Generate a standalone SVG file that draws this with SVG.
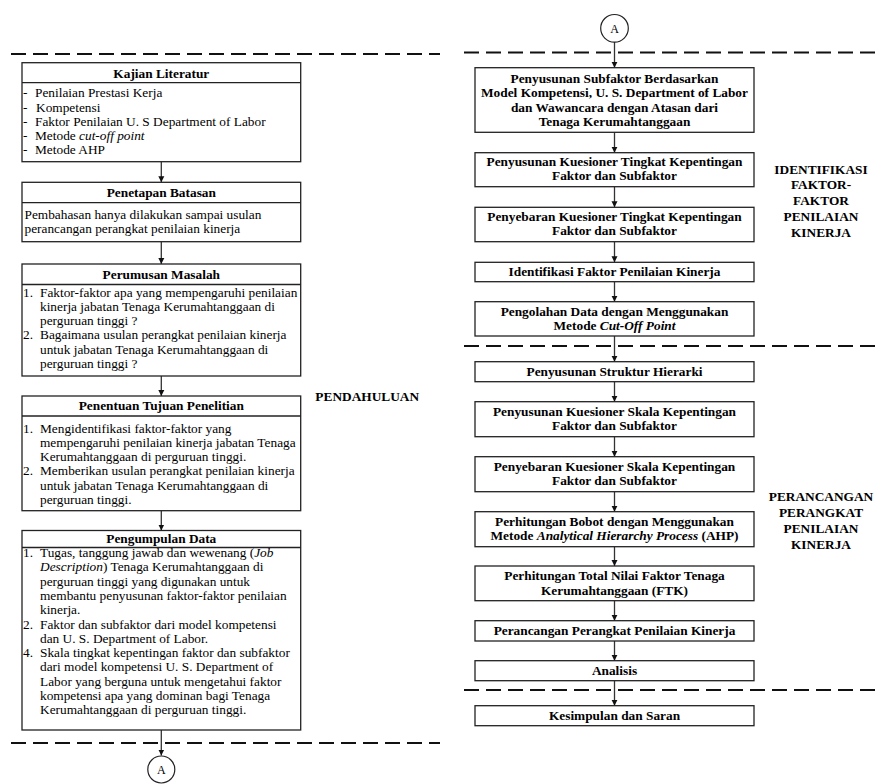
<svg xmlns="http://www.w3.org/2000/svg" width="880" height="784" viewBox="0 0 880 784">
<defs>
<marker id="ah" markerWidth="7" markerHeight="7" refX="6" refY="3.5" orient="auto" markerUnits="userSpaceOnUse">
<path d="M0,0.5 L6,3.5 L0,6.5 z" fill="#111"/>
</marker>
<style>
text{font-family:"Liberation Serif","Times New Roman",serif;font-size:13.33px;fill:#000}
.b{font-weight:bold}
.c{text-anchor:middle}
.i{font-style:italic}
.box{fill:#fff;stroke:#222;stroke-width:1.3}
.sep{stroke:#222;stroke-width:1.3}
.dash{stroke:#111;stroke-width:2;stroke-dasharray:15,7;fill:none}
.con{stroke:#333;stroke-width:1.3;fill:none;marker-end:url(#ah)}
.circ{fill:#fff;stroke:#222;stroke-width:1.2}
</style>
</defs>
<rect width="880" height="784" fill="#fff"/>

<g id="dividers">
<line class="dash" x1="11" y1="54" x2="440" y2="54"/>
<line class="dash" x1="11" y1="743" x2="440" y2="743"/>
<line class="dash" x1="464" y1="52.5" x2="880" y2="52.5"/>
<line class="dash" x1="464" y1="346" x2="880" y2="346"/>
<line class="dash" x1="464" y1="690" x2="880" y2="690"/>
</g>

<g id="connectors">
<line class="con" x1="161.3" y1="161.7" x2="161.3" y2="182.3"/>
<line class="con" x1="161.3" y1="241.7" x2="161.3" y2="264"/>
<line class="con" x1="161.3" y1="376" x2="161.3" y2="396"/>
<line class="con" x1="161.3" y1="510.7" x2="161.3" y2="530.5"/>
<line class="con" x1="161.3" y1="730" x2="161.3" y2="755.5"/>
<line class="con" x1="614.5" y1="42" x2="614.5" y2="67.7"/>
<line class="con" x1="614.5" y1="132.3" x2="614.5" y2="152.7"/>
<line class="con" x1="614.5" y1="186.7" x2="614.5" y2="207.3"/>
<line class="con" x1="614.5" y1="241.7" x2="614.5" y2="262.3"/>
<line class="con" x1="614.5" y1="281.7" x2="614.5" y2="301.7"/>
<line class="con" x1="614.5" y1="336" x2="614.5" y2="361.7"/>
<line class="con" x1="614.5" y1="381.7" x2="614.5" y2="401.7"/>
<line class="con" x1="614.5" y1="436.7" x2="614.5" y2="456.7"/>
<line class="con" x1="614.5" y1="491.7" x2="614.5" y2="511.7"/>
<line class="con" x1="614.5" y1="546.7" x2="614.5" y2="566"/>
<line class="con" x1="614.5" y1="600.7" x2="614.5" y2="620.7"/>
<line class="con" x1="614.5" y1="641" x2="614.5" y2="660.7"/>
<line class="con" x1="614.5" y1="680.7" x2="614.5" y2="705.7"/>
</g>

<g id="kajian">
<rect class="box" x="22" y="62.7" width="278.7" height="99"/>
<line class="sep" x1="22" y1="82.7" x2="300.7" y2="82.7"/>
<text class="b c" x="161.3" y="77.5">Kajian Literatur</text>
<text x="23" y="97.3">-</text><text x="35" y="97.3">Penilaian Prestasi Kerja</text>
<text x="23" y="111.5">-</text><text x="36" y="111.5">Kompetensi</text>
<text x="23" y="125.7">-</text><text x="35" y="125.7">Faktor Penilaian U. S Department of Labor</text>
<text x="23" y="139.9">-</text><text x="35" y="139.9">Metode <tspan class="i">cut-off point</tspan></text>
<text x="23" y="154.1">-</text><text x="35" y="154.1">Metode AHP</text>
</g>

<g id="batasan">
<rect class="box" x="22" y="182.3" width="278.7" height="59.4"/>
<line class="sep" x1="22" y1="202.7" x2="300.7" y2="202.7"/>
<text class="b c" x="161.3" y="197">Penetapan Batasan</text>
<text x="24.5" y="219">Pembahasan hanya dilakukan sampai usulan</text>
<text x="24.5" y="233.3">perancangan perangkat penilaian kinerja</text>
</g>

<g id="perumusan">
<rect class="box" x="22" y="264" width="278.7" height="112"/>
<line class="sep" x1="22" y1="284.5" x2="300.7" y2="284.5"/>
<text class="b c" x="161.3" y="279">Perumusan Masalah</text>
<text x="23" y="296.5">1.</text><text x="40" y="296.5">Faktor-faktor apa yang mempengaruhi penilaian</text>
<text x="40" y="310.8">kinerja jabatan Tenaga Kerumahtanggaan di</text>
<text x="40" y="325.1">perguruan tinggi ?</text>
<text x="23" y="339.4">2.</text><text x="40" y="339.4">Bagaimana usulan perangkat penilaian kinerja</text>
<text x="40" y="353.7">untuk jabatan Tenaga Kerumahtanggaan di</text>
<text x="40" y="368">perguruan tinggi ?</text>
</g>

<g id="tujuan">
<rect class="box" x="22" y="396" width="278.7" height="114.7"/>
<line class="sep" x1="22" y1="416" x2="300.7" y2="416"/>
<text class="b c" x="161.3" y="410">Penentuan Tujuan Penelitian</text>
<text x="23" y="432.5">1.</text><text x="40" y="432.5">Mengidentifikasi faktor-faktor yang</text>
<text x="40" y="446.8">mempengaruhi penilaian kinerja jabatan Tenaga</text>
<text x="40" y="461.1">Kerumahtanggaan di perguruan tinggi.</text>
<text x="23" y="475.4">2.</text><text x="40" y="475.4">Memberikan usulan perangkat penilaian kinerja</text>
<text x="40" y="489.7">untuk jabatan Tenaga Kerumahtanggaan di</text>
<text x="40" y="504">perguruan tinggi.</text>
</g>

<g id="pengumpulan">
<rect class="box" x="22" y="530.5" width="278.7" height="199.5"/>
<line class="sep" x1="22" y1="547.5" x2="300.7" y2="547.5"/>
<text class="b c" x="161.3" y="543">Pengumpulan Data</text>
<text x="23" y="557">1.</text><text x="40" y="557">Tugas, tanggung jawab dan wewenang (<tspan class="i">Job</tspan></text>
<text x="40" y="571.3"><tspan class="i">Description</tspan>) Tenaga Kerumahtanggaan di</text>
<text x="40" y="585.6">perguruan tinggi yang digunakan untuk</text>
<text x="40" y="599.9">membantu penyusunan faktor-faktor penilaian</text>
<text x="40" y="614.2">kinerja.</text>
<text x="23" y="628.5">2.</text><text x="40" y="628.5">Faktor dan subfaktor dari model kompetensi</text>
<text x="40" y="642.8">dan U. S. Department of Labor.</text>
<text x="23" y="657.1">4.</text><text x="40" y="657.1">Skala tingkat kepentingan faktor dan subfaktor</text>
<text x="40" y="671.4">dari model kompetensi U. S. Department of</text>
<text x="40" y="685.7">Labor yang berguna untuk mengetahui faktor</text>
<text x="40" y="700">kompetensi apa yang dominan bagi Tenaga</text>
<text x="40" y="714.3">Kerumahtanggaan di perguruan tinggi.</text>
</g>

<g id="conn-a-bottom">
<circle class="circ" cx="161.3" cy="769.5" r="13.5"/>
<text class="c" x="161.3" y="774" style="font-size:12px">A</text>
</g>

<g id="conn-a-top">
<circle class="circ" cx="614.5" cy="28.3" r="13.8"/>
<text class="c" x="614.5" y="32.8" style="font-size:12px">A</text>
</g>

<g id="label-pendahuluan">
<text class="b c" x="367.2" y="401.2">PENDAHULUAN</text>
</g>

<g id="label-identifikasi">
<text class="b c" x="821" y="173.7">IDENTIFIKASI</text>
<text class="b c" x="821" y="189.4">FAKTOR-</text>
<text class="b c" x="821" y="205.1">FAKTOR</text>
<text class="b c" x="821" y="220.8">PENILAIAN</text>
<text class="b c" x="821" y="236.5">KINERJA</text>
</g>

<g id="label-perancangan">
<text class="b c" x="821" y="501.2">PERANCANGAN</text>
<text class="b c" x="821" y="517.1">PERANGKAT</text>
<text class="b c" x="821" y="533">PENILAIAN</text>
<text class="b c" x="821" y="548.9">KINERJA</text>
</g>

<g id="r1">
<rect class="box" x="475" y="67.7" width="279" height="64.6"/>
<text class="b c" x="614.5" y="83">Penyusunan Subfaktor Berdasarkan</text>
<text class="b c" x="614.5" y="97.3">Model Kompetensi, U. S. Department of Labor</text>
<text class="b c" x="614.5" y="111.6">dan Wawancara dengan Atasan dari</text>
<text class="b c" x="614.5" y="125.9">Tenaga Kerumahtanggaan</text>
</g>
<g id="r2">
<rect class="box" x="475" y="152.7" width="279" height="34"/>
<text class="b c" x="614.5" y="166">Penyusunan Kuesioner Tingkat Kepentingan</text>
<text class="b c" x="614.5" y="180.3">Faktor dan Subfaktor</text>
</g>
<g id="r3">
<rect class="box" x="475" y="207.3" width="279" height="34.4"/>
<text class="b c" x="614.5" y="221">Penyebaran Kuesioner Tingkat Kepentingan</text>
<text class="b c" x="614.5" y="235.3">Faktor dan Subfaktor</text>
</g>
<g id="r4">
<rect class="box" x="475" y="262.3" width="279" height="19.4"/>
<text class="b c" x="614.5" y="276.3">Identifikasi Faktor Penilaian Kinerja</text>
</g>
<g id="r5">
<rect class="box" x="475" y="301.7" width="279" height="34.3"/>
<text class="b c" x="614.5" y="316">Pengolahan Data dengan Menggunakan</text>
<text class="b c" x="614.5" y="330.3">Metode <tspan class="i">Cut-Off Point</tspan></text>
</g>
<g id="r6">
<rect class="box" x="475" y="361.7" width="279" height="20"/>
<text class="b c" x="614.5" y="376">Penyusunan Struktur Hierarki</text>
</g>
<g id="r7">
<rect class="box" x="475" y="401.7" width="279" height="35"/>
<text class="b c" x="614.5" y="415.7">Penyusunan Kuesioner Skala Kepentingan</text>
<text class="b c" x="614.5" y="430">Faktor dan Subfaktor</text>
</g>
<g id="r8">
<rect class="box" x="475" y="456.7" width="279" height="35"/>
<text class="b c" x="614.5" y="470.7">Penyebaran Kuesioner Skala Kepentingan</text>
<text class="b c" x="614.5" y="485">Faktor dan Subfaktor</text>
</g>
<g id="r9">
<rect class="box" x="475" y="511.7" width="279" height="35"/>
<text class="b c" x="614.5" y="525.7">Perhitungan Bobot dengan Menggunakan</text>
<text class="b c" x="614.5" y="540">Metode <tspan class="i">Analytical Hierarchy Process</tspan> (AHP)</text>
</g>
<g id="r10">
<rect class="box" x="475" y="566" width="279" height="34.7"/>
<text class="b c" x="614.5" y="580.3">Perhitungan Total Nilai Faktor Tenaga</text>
<text class="b c" x="614.5" y="594.6">Kerumahtanggaan (FTK)</text>
</g>
<g id="r11">
<rect class="box" x="475" y="620.7" width="279" height="20.3"/>
<text class="b c" x="614.5" y="635">Perancangan Perangkat Penilaian Kinerja</text>
</g>
<g id="r12">
<rect class="box" x="475" y="660.7" width="279" height="20"/>
<text class="b c" x="614.5" y="675">Analisis</text>
</g>
<g id="r13">
<rect class="box" x="475" y="705.7" width="279" height="20"/>
<text class="b c" x="614.5" y="720">Kesimpulan dan Saran</text>
</g>
</svg>
